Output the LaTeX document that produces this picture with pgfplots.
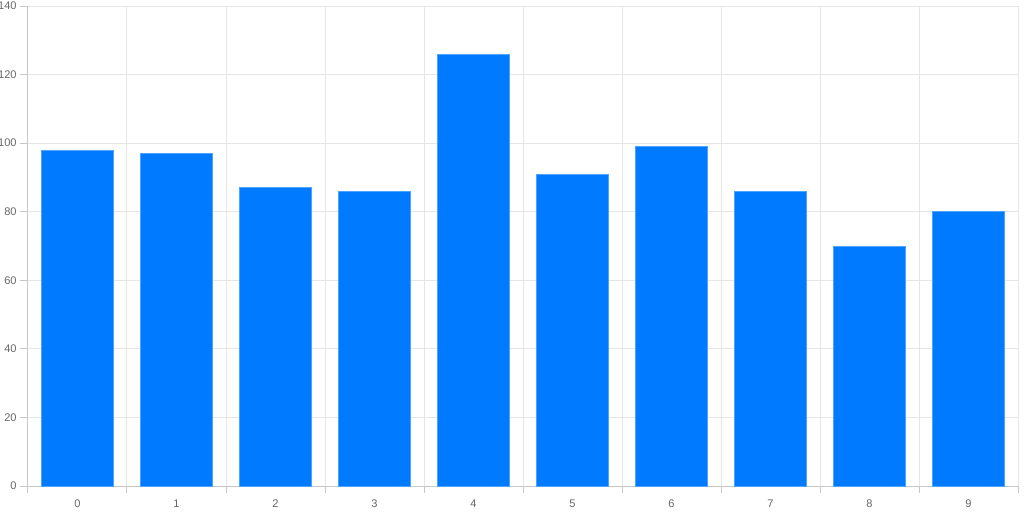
\documentclass[border=0pt]{standalone}
\usepackage{pgfplots}
\pgfplotsset{compat=1.18}
\usepackage{fontspec}
\setmainfont{Liberation Sans}
\definecolor{barblue}{HTML}{007BFF}
\definecolor{barline}{HTML}{4DA3FF}
\definecolor{gridgray}{HTML}{E6E6E6}
\definecolor{axisgray}{HTML}{C8C8C8}
\definecolor{labelgray}{HTML}{666666}
\begin{document}
\begin{tikzpicture}
\useasboundingbox (-21pt,-19.5pt) rectangle (747pt,364.5pt);
\begin{axis}[
  at={(0,0)}, anchor=south west,
  scale only axis,
  width=742.5pt, height=360pt,
  ybar, bar width=0.727,
  xmin=-0.5, xmax=9.5,
  ymin=0, ymax=140,
  xtick={0,...,9},
  minor xtick={-0.5,0.5,...,9.5},
  ytick={0,20,...,140},
  major x tick style={draw=none},
  minor x tick style={axisgray, line width=0.75pt},
  minor tick length=5pt,
  y tick style={axisgray, line width=0.75pt},
  major tick length=6pt,
  tick align=outside,
  xminorgrids=true, ymajorgrids=true, xmajorgrids=false,
  grid style={gridgray, line width=0.75pt},
  minor grid style={gridgray, line width=0.75pt},
  axis x line*=bottom, axis y line*=left,
  axis line style={axisgray, line width=0.75pt, -},
  tick label style={font=\fontsize{8.3pt}{9pt}\selectfont, text=labelgray},
  /pgf/number format/assume math mode=true,
  xticklabel style={yshift=-1pt},
  yticklabel style={xshift=1pt},
  clip=false,
]
\addplot[fill=barblue, draw=barline, line width=0.6pt] coordinates {
  (0,98) (1,97) (2,87) (3,86) (4,126)
  (5,91) (6,99) (7,86) (8,70) (9,80)
};
\end{axis}
\end{tikzpicture}
\end{document}
